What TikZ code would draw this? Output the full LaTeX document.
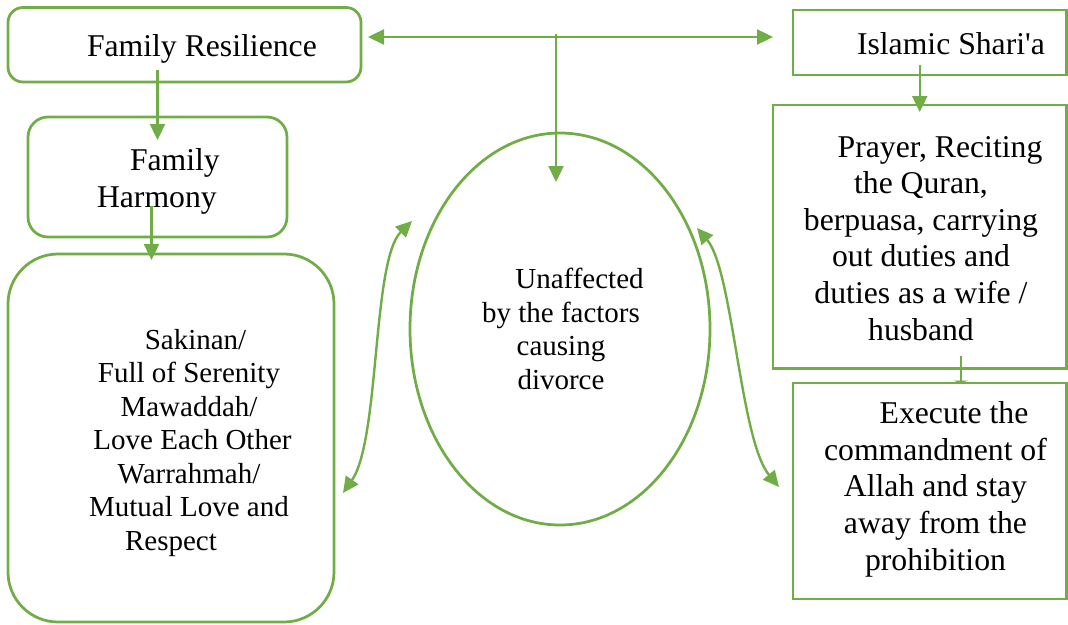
\documentclass[tikz,border=0pt]{standalone}
\usepackage{fontspec}
\setmainfont{Liberation Serif}
\usetikzlibrary{arrows.meta,shapes.geometric}
\definecolor{leaf}{HTML}{70AD47}
\newcommand{\bigtext}{\fontsize{31.7}{36.6}\selectfont}
\newcommand{\smalltext}{\fontsize{29}{33.5}\selectfont}
\begin{document}
\begin{tikzpicture}[x=1pt,y=-1pt,
  box/.style={draw=leaf, line width=2.75pt, inner sep=0pt, outer sep=0pt},
  rbox/.style={box, rounded corners=#1},
  oval/.style={box, ellipse},
  label/.style={inner sep=0pt, outer sep=0pt, text=black},
  link/.style={draw=leaf, line width=2.4pt},
  arr/.style={link, -{Triangle[length=16pt,width=15pt]}},
  arrs/.style={link, {Triangle[length=16pt,width=15pt]}-{Triangle[length=16pt,width=15pt]}},
]
\useasboundingbox (0,0) rectangle (1068,624);

% boxes
\node[rbox=15pt, minimum width=353pt, minimum height=74.5pt] (fr) at (184.5,44.75) {};
\node[box, minimum width=273.5pt, minimum height=65pt] (is) at (929.75,42.5) {};
\node[rbox=20pt, minimum width=259pt, minimum height=120pt] (fh) at (157.5,177) {};
\node[rbox=50pt, minimum width=326pt, minimum height=368pt] (sk) at (171,438) {};
\node[oval, minimum width=300pt, minimum height=392pt] (el) at (560,329) {};
\node[box, minimum width=293.5pt, minimum height=263.5pt] (pr) at (919.75,236.75) {};
\node[box, minimum width=273.5pt, minimum height=216pt] (ex) at (929.75,491) {};

% texts (multi-line blocks are anchored at the baseline of their last line)
\node[label, anchor=base west, font=\bigtext] (tfr) at (87,56) {Family Resilience};
\node[label, anchor=base west, font=\bigtext] (tis) at (857,54) {Islamic Shari\textquotesingle a};
\node[label, anchor=base west, align=left, font=\bigtext] (tfh) at (97,207)
  {\hspace{33pt}Family\\Harmony};
\node[label, anchor=base, align=center, font=\smalltext] (tsk) at (189,550)
  {\hspace{13pt}Sakinan/\\Full of Serenity\\Mawaddah/\\\hspace{7pt}Love Each Other\\Warrahmah/\\Mutual Love and\\Respect\kern36pt};
\node[label, anchor=base, align=center, font=\smalltext] (tel) at (561,389)
  {\hspace{37pt}Unaffected\\by the factors\\causing\\divorce};
\node[label, anchor=base, align=center, font=\bigtext] (tpr) at (921,340)
  {\hspace{38pt}Prayer, Reciting\\the Quran,\\berpuasa, carrying\\out duties and\\duties as a wife /\\husband};
\node[label, anchor=base, align=center, font=\bigtext] (tex) at (935.5,570)
  {\hspace{37pt}Execute the\\commandment of\\Allah and stay\\away from the\\prohibition};

% connectors
\coordinate (hub) at (556,37);
\draw[arrs, shorten <=7pt, shorten >=20pt] (fr.east |- hub) -- (is.west |- hub);
\draw[arr, shorten >=-49pt] ([yshift=3pt]hub) -- (hub |- el.north);
\draw[arr, shorten <=-12pt, shorten >=-23pt] (fh.north |- fr.south) -- (fh.north);
\draw[arr, shorten <=-31pt, shorten >=-6pt] ([xshift=-6pt]fh.south) -- ([xshift=-6pt]fh.south |- sk.north);
\draw[arr, shorten <=-10pt, shorten >=-7pt] (pr.north |- is.south) -- (pr.north);
\draw[link, -{Triangle[length=2.5pt,width=15pt]}, shorten <=-12.5pt] ([xshift=41pt]pr.south) -- ([xshift=41pt]pr.south |- ex.north);
\draw[arrs] ([xshift=9pt,yshift=-55pt]sk.east) .. controls +(37,-53) and +(-40,39) .. ([xshift=2pt,yshift=108pt]el.west);
\draw[arrs] ([xshift=-13pt,yshift=101pt]el.east) .. controls +(36,42) and +(-39,-47) .. ([xshift=-14pt,yshift=4pt]ex.west);
\end{tikzpicture}
\end{document}
